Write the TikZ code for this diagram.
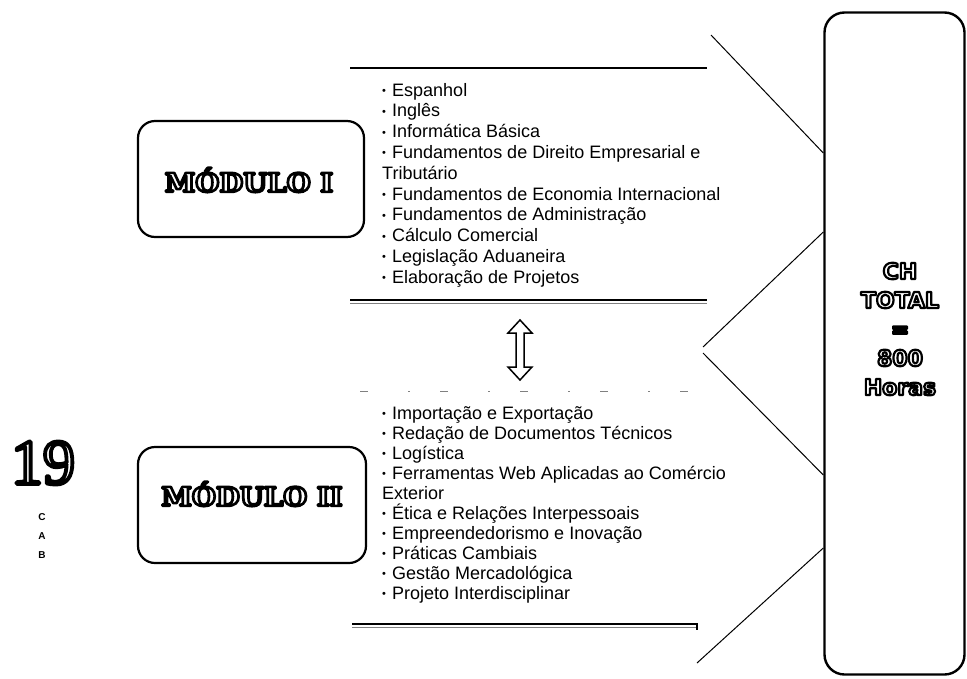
\documentclass[tikz,border=0pt]{standalone}
\usepackage{fontspec}
\setmainfont{Liberation Sans}
\newfontfamily\modfont{DejaVu Serif}[BoldFeatures={FakeBold=10}]
\newfontfamily\totfont{DejaVu Sans}[BoldFeatures={FakeBold=10}]
\newfontfamily\numfont{Liberation Serif}[FakeBold=6]
\newcommand\outl[1]{\textcolor{white}{\special{pdf:literal direct 0 G 1 j}#1}}
\newcommand\bul{\makebox[10pt][l]{\raisebox{1.5pt}{\fontsize{11}{11}\selectfont •}}}
\tikzset{
  item/.style={anchor=base west, inner sep=0pt, font=\fontsize{18}{20}\selectfont},
  modbox/.style={draw, line width=2.2pt, rounded corners=17pt, inner sep=0pt},
  modlabel/.style={inner sep=0pt, font=\modfont\bfseries\fontsize{26}{26}\selectfont},
  totlabel/.style={inner sep=0pt, align=center, font=\totfont\bfseries\fontsize{22}{29}\selectfont},
  rulethick/.style={line width=1.8pt},
  brace/.style={line width=1pt},
  cab/.style={inner sep=0pt, font=\bfseries\fontsize{10}{10}\selectfont}
}
\begin{document}
\begin{tikzpicture}[x=1pt,y=-1pt]
\useasboundingbox (0,0) rectangle (967,678);
% page number and letters
\node[inner sep=0pt, font=\numfont\fontsize{64}{64}\selectfont] (pg) at (43,463) {\outl{19}};
\node[cab] (lc) at (42,517) {C};
\node[cab] (la) at (42,536) {A};
\node[cab] (lb) at (42,555) {B};
% module boxes
\node[modbox, minimum width=226pt, minimum height=116pt] (m1) at (251,179) {};
\node[modlabel] (m1t) at (249,180) {\scalebox{1.06}[1]{\outl{MÓDULO I}}};
\node[modbox, minimum width=228pt, minimum height=116pt] (m2) at (252,505) {};
\node[modlabel] (m2t) at (252,494) {\scalebox{1.06}[1]{\outl{MÓDULO II}}};
% list 1
\coordinate (r1a) at (350,68);  \coordinate (r1b) at (707,68);
\draw[rulethick] (r1a) -- (r1b);
\node[item] (p0) at (382,96.0)  {\bul Espanhol};
\node[item] (p1) at (382,116.8) {\bul Inglês};
\node[item] (p2) at (382,137.6) {\bul Informática Básica};
\node[item] (p3) at (382,158.4) {\bul Fundamentos de Direito Empresarial e};
\node[item] (p4) at (382,179.2) {Tributário};
\node[item] (p5) at (382,200.0) {\bul Fundamentos de Economia Internacional};
\node[item] (p6) at (382,220.8) {\bul Fundamentos de Administração};
\node[item] (p7) at (382,241.6) {\bul Cálculo Comercial};
\node[item] (p8) at (382,262.4) {\bul Legislação Aduaneira};
\node[item] (p9) at (382,283.2) {\bul Elaboração de Projetos};
\coordinate (r2a) at (350,300);  \coordinate (r2b) at (707,300);
\draw[line width=0.4pt, gray] ([yshift=-3pt]r2a) -- ([yshift=-3pt]r2b);
\draw[line width=2pt] (r2a) -- (r2b);
% double arrow
\draw[line width=1.5pt, line join=miter, fill=white]
  (520,320) -- (532,333) -- (524,333) -- (524,367) -- (532,367) -- (520,380)
  -- (508,367) -- (516,367) -- (516,333) -- (508,333) -- cycle;
% list 2
\coordinate (r3a) at (360,391);  \coordinate (r3b) at (700,391);
\draw[line width=0.8pt, gray, dash pattern=on 8pt off 40pt on 2pt off 30pt] (r3a) -- (r3b);
\node[item] (q0) at (382,419) {\bul Importação e Exportação};
\node[item] (q1) at (382,439) {\bul Redação de Documentos Técnicos};
\node[item] (q2) at (382,459) {\bul Logística};
\node[item] (q3) at (382,479) {\bul Ferramentas Web Aplicadas ao Comércio};
\node[item] (q4) at (382,499) {Exterior};
\node[item] (q5) at (382,519) {\bul Ética e Relações Interpessoais};
\node[item] (q6) at (382,539) {\bul Empreendedorismo e Inovação};
\node[item] (q7) at (382,559) {\bul Práticas Cambiais};
\node[item] (q8) at (382,579) {\bul Gestão Mercadológica};
\node[item] (q9) at (382,599) {\bul Projeto Interdisciplinar};
\coordinate (r4a) at (352,624);  \coordinate (r4b) at (697,624);
\draw[line width=0.4pt, gray] ([yshift=-3pt]r4a) -- ([yshift=-3pt]r4b);
\draw[rulethick] (r4a) -- (r4b) -- ++(0,6);
% total box
\node[modbox, rounded corners=20pt, line width=2.4pt, minimum width=140pt, minimum height=662pt] (tot) at (894.5,343.5) {};
\node[totlabel] (tott) at (900,329) {\outl{CH}\\\outl{TOTAL}\\\outl{=}\\\outl{800}\\\outl{Horas}};
% brace lines
\coordinate (a1) at (711,35);
\coordinate (a2) at (tot.west |- 0,153);
\coordinate (b1) at (tot.west |- 0,232);
\coordinate (v1) at (703,347);
\coordinate (v2) at (703,353);
\coordinate (c2) at (tot.west |- 0,475);
\coordinate (d1) at (tot.west |- 0,548);
\coordinate (d2) at (697,663);
\draw[brace] (a1) -- (a2);
\draw[brace] (b1) -- (v1);
\draw[brace] (v2) -- (c2);
\draw[brace] (d1) -- (d2);
\end{tikzpicture}
\end{document}
